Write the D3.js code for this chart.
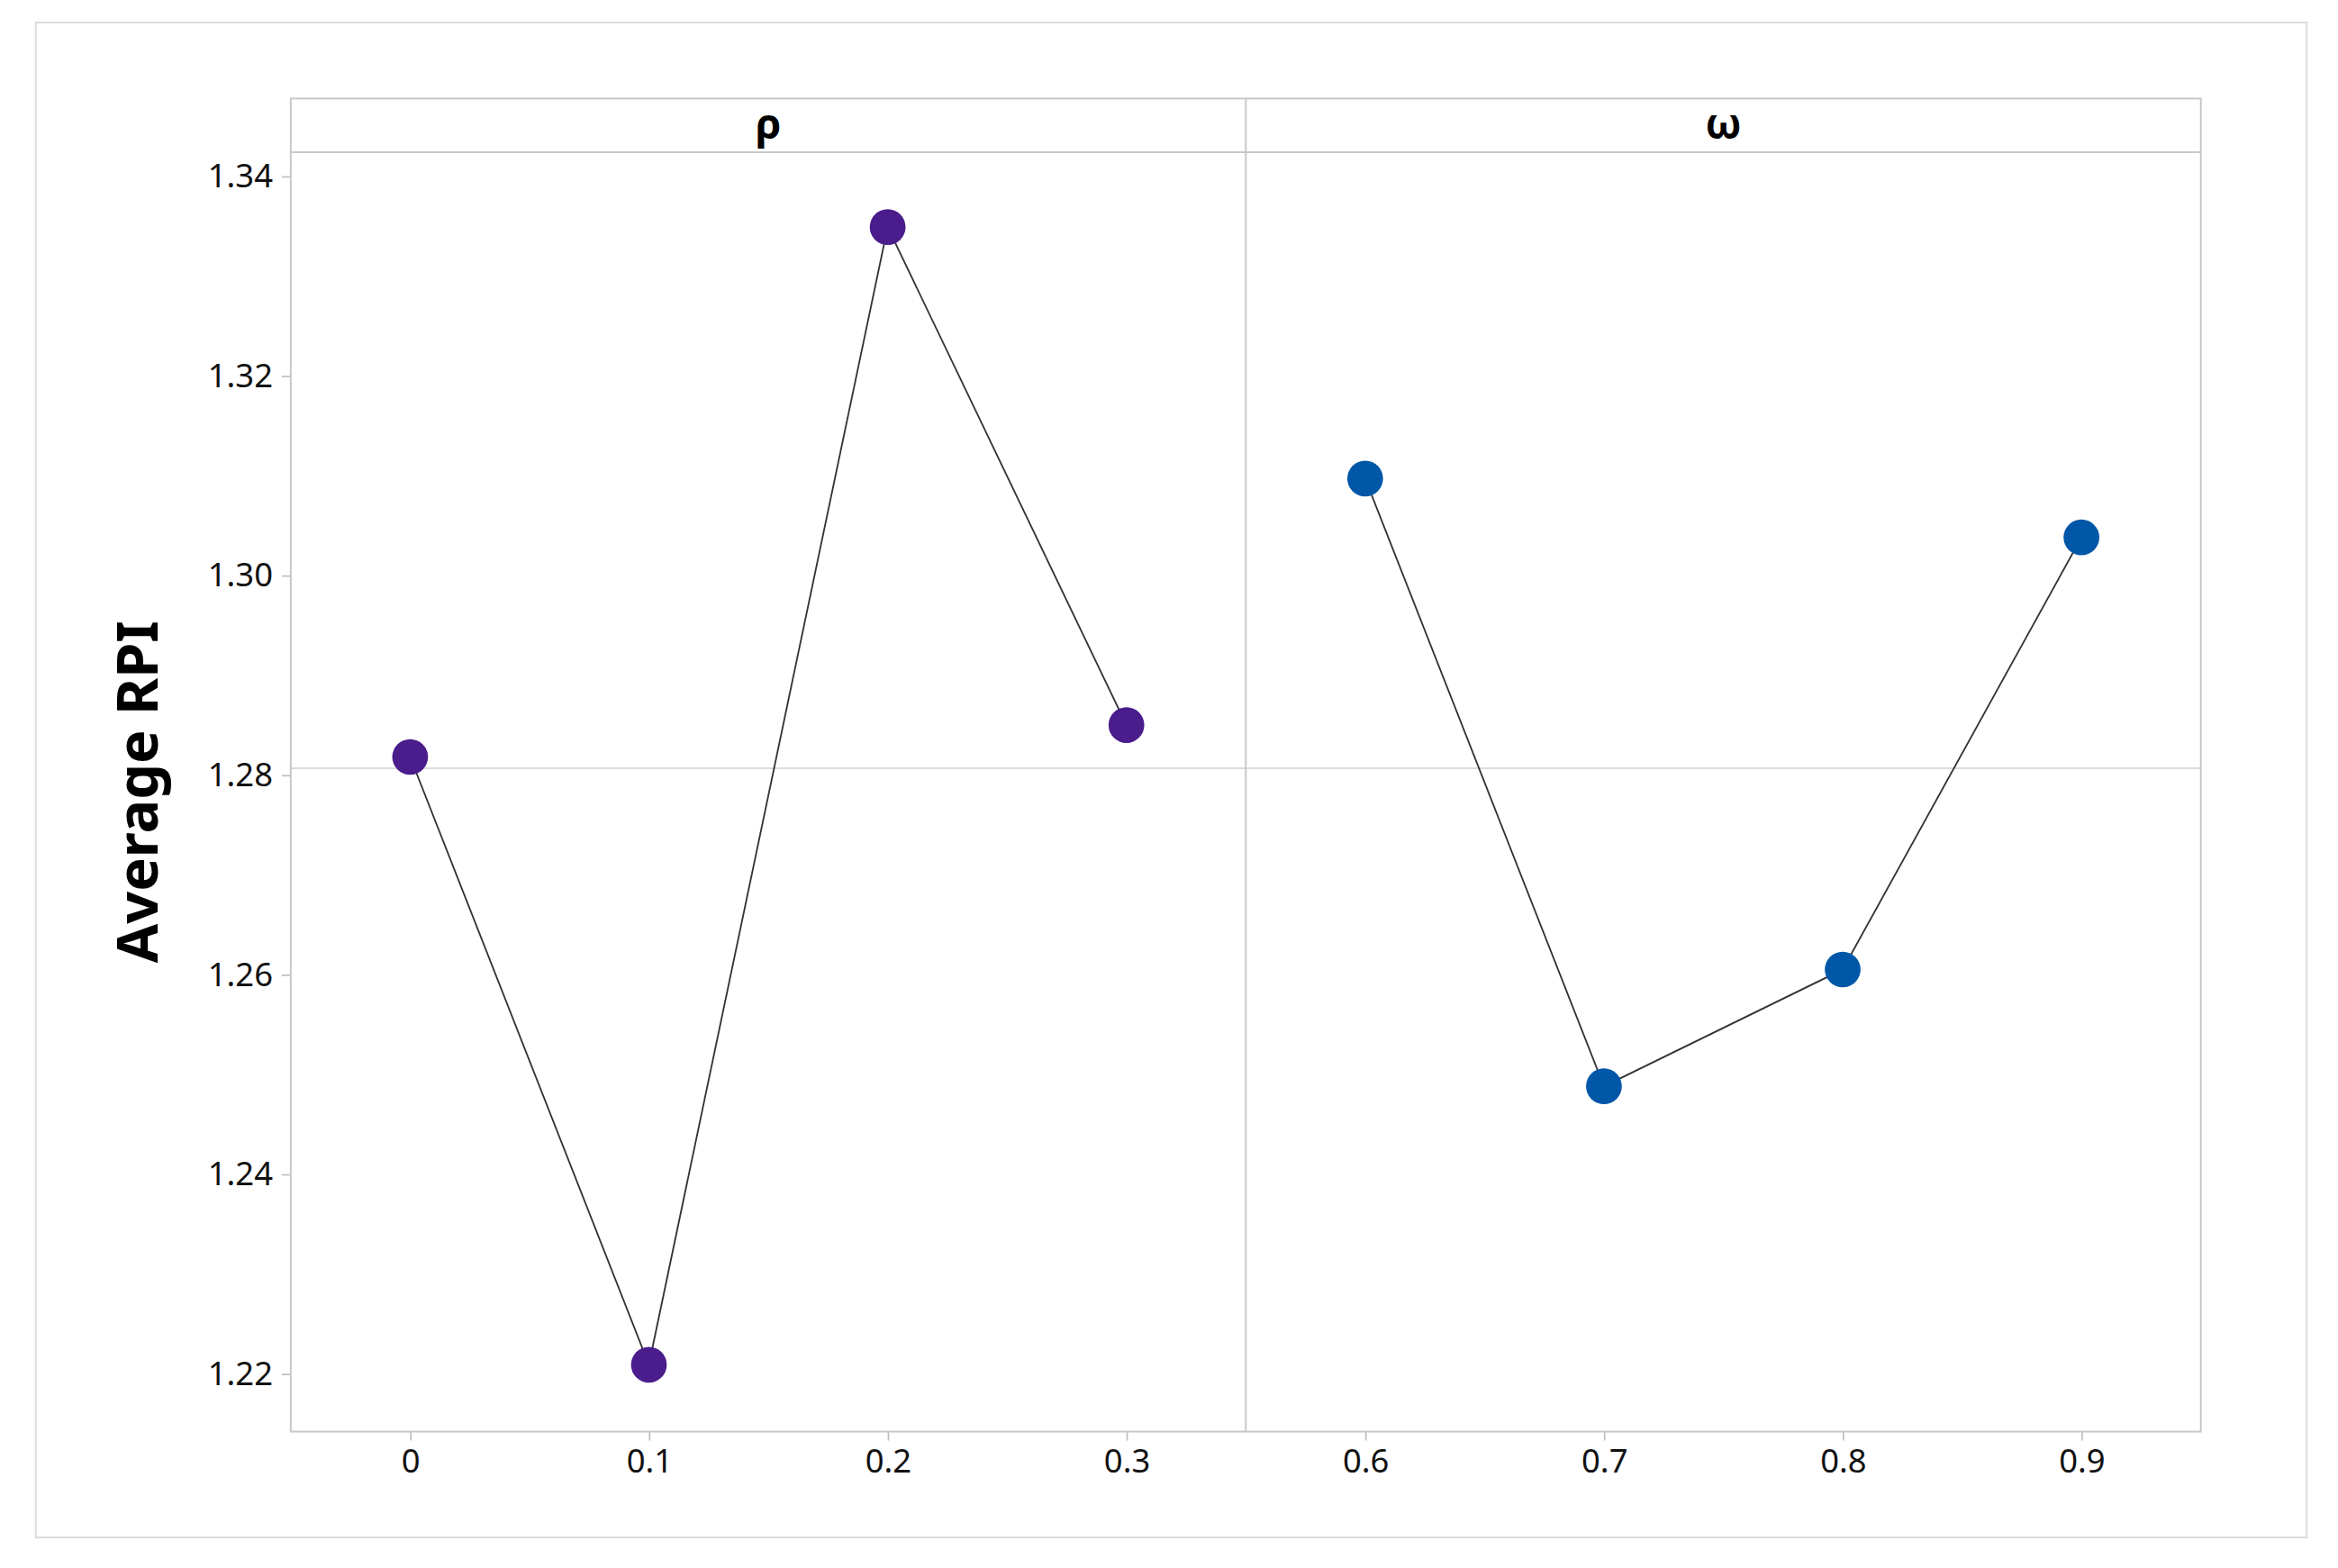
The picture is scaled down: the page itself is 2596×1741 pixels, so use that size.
<!DOCTYPE html>
<html>
<head>
<meta charset="utf-8">
<script src="https://cdn.jsdelivr.net/npm/d3@7"></script>
<style>
  body { margin: 0; background: #fff; }
  text { font-family: "Noto Sans", "Open Sans", sans-serif; }
</style>
</head>
<body>
<div id="container"></div>
<script>
/* DATA */
const panels = ["ρ", "ω"];
const rhoLevels = ["0", "0.1", "0.2", "0.3"];
const rhoValues = [1.2818, 1.2209, 1.3349, 1.2850];
const omegaLevels = ["0.6", "0.7", "0.8", "0.9"];
const omegaValues = [1.3097, 1.2488, 1.2605, 1.3038];
const yTicks = [1.22, 1.24, 1.26, 1.28, 1.30, 1.32, 1.34];
const colors = ["#4a1c8c", "#0057a8"];

// drawing units (scaled to the page via viewBox)
const W = 1568, H = 1051.4;
const plot = { left: 195, right: 1476, top: 66, strip: 102, bottom: 960 };
const mid = (plot.left + plot.right) / 2;

const svg = d3.select("#container").append("svg")
  .attr("width", 2596).attr("height", 1741)
  .attr("viewBox", `0 0 ${W} ${H}`);

// outer frame
svg.append("rect").attr("x", 24).attr("y", 15).attr("width", 1523).attr("height", 1016)
  .attr("fill", "none").attr("stroke", "#dcdcdc").attr("stroke-width", 1.2);

const yScale = d3.scaleLinear().domain([1.2142, 1.3424]).range([plot.bottom, plot.strip]);

const series = [
  { levels: rhoLevels, values: rhoValues, x0: plot.left, x1: mid },
  { levels: omegaLevels, values: omegaValues, x0: mid, x1: plot.right }
];
const allVals = rhoValues.concat(omegaValues);
const grand = d3.mean(allVals);

// reference line at the overall mean
svg.append("line").attr("x1", plot.left).attr("x2", plot.right)
  .attr("y1", yScale(grand)).attr("y2", yScale(grand))
  .attr("stroke", "#cfcfcf").attr("stroke-width", 1);

// y axis
const yAxis = svg.append("g").attr("transform", `translate(${plot.left},0)`)
  .call(d3.axisLeft(yScale).tickValues(yTicks).tickFormat(d3.format(".2f")).tickSize(6).tickPadding(6));
yAxis.select(".domain").remove();
yAxis.selectAll("line").attr("stroke", "#bdbdbd");
yAxis.selectAll("text").attr("font-size", 22).attr("fill", "#111");

svg.append("text").attr("transform", `translate(106,${(plot.strip + plot.bottom) / 2}) rotate(-90)`)
  .attr("text-anchor", "middle").attr("font-size", 38).attr("font-weight", "bold")
  .text("Average RPI");

series.forEach((s, i) => {
  const x = d3.scalePoint().domain(s.levels).range([s.x0, s.x1]).padding(0.5);
  const pts = s.levels.map((l, j) => ({ l, v: s.values[j] }));

  const xAxis = svg.append("g").attr("transform", `translate(0,${plot.bottom})`)
    .call(d3.axisBottom(x).tickSize(6).tickPadding(6));
  xAxis.select(".domain").remove();
  xAxis.selectAll("line").attr("stroke", "#bdbdbd");
  xAxis.selectAll("text").attr("font-size", 22).attr("fill", "#111");

  svg.append("path").datum(pts)
    .attr("fill", "none").attr("stroke", "#333").attr("stroke-width", 1.1)
    .attr("d", d3.line().x(d => x(d.l)).y(d => yScale(d.v)));

  svg.selectAll(null).data(pts).join("circle")
    .attr("cx", d => x(d.l)).attr("cy", d => yScale(d.v)).attr("r", 12)
    .attr("fill", colors[i]);

  svg.append("text").attr("x", (s.x0 + s.x1) / 2).attr("y", (plot.top + plot.strip) / 2 + 9)
    .attr("text-anchor", "middle").attr("font-size", 28).attr("font-weight", "bold")
    .attr("font-family", "DejaVu Serif, serif")
    .text(panels[i]);
});

// panel frames and strip
const g = svg.append("g").attr("fill", "none").attr("stroke", "#c8c8c8").attr("stroke-width", 1.2);
g.append("rect").attr("x", plot.left).attr("y", plot.top)
  .attr("width", plot.right - plot.left).attr("height", plot.bottom - plot.top);
g.append("line").attr("x1", plot.left).attr("x2", plot.right).attr("y1", plot.strip).attr("y2", plot.strip);
g.append("line").attr("x1", mid).attr("x2", mid).attr("y1", plot.top).attr("y2", plot.bottom);
</script>
</body>
</html>
